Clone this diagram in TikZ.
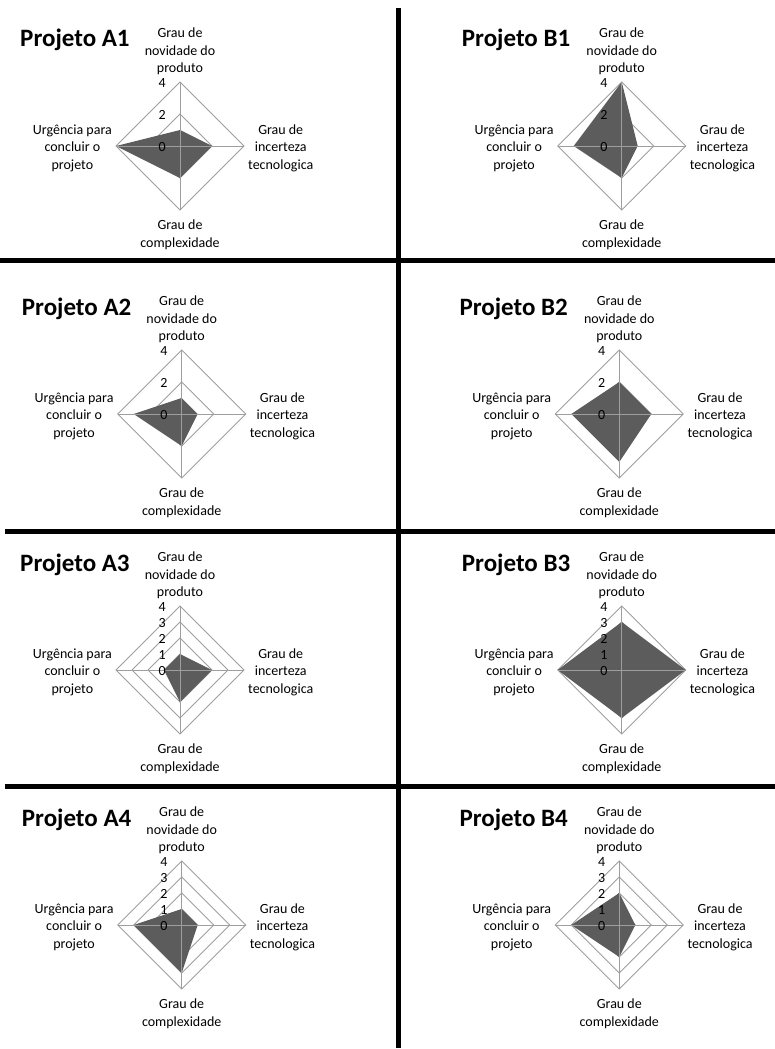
\documentclass[tikz,border=0pt]{standalone}
\usepackage{fontspec}
\setmainfont{Carlito}

\begin{document}
\begin{tikzpicture}[
  x=1pt, y=-1pt,
  ring/.style={draw=black!38, line width=0.9pt},
  spoke/.style={draw=black!38, line width=0.9pt},
  area/.style={fill=black!64},
  sep/.style={draw=black, line width=5pt},
  axlabel/.style={font=\fontsize{14}{17.5}\selectfont, align=center, inner sep=0pt},
  ticklabel/.style={font=\fontsize{14}{17}\selectfont, inner sep=0pt, anchor=east},
  chartttl/.style={font=\fontsize{25}{30}\selectfont\bfseries, inner sep=0pt, anchor=base west},
]
\useasboundingbox (0,0) rectangle (775,1049);

% ---------------- separators ----------------
\draw[sep] (398.5,8) -- (398.5,1048);
\draw[sep] (0,260)   -- (775,260);
\draw[sep] (5,531)   -- (775,531);
\draw[sep] (5,786.5) -- (775,786.5);

% ---------------- radar charts ----------------
% name / centre x / centre y / novidade / incerteza / complexidade / urgencia / step
\foreach \nm/\cx/\cy/\vn/\vi/\vc/\vu/\st in {
    A1/180/146/1/2/2/4/2,     B1/621.7/146/4/1/2/3/2,
    A2/181.7/414/1/1/2/3/2,   B2/619.3/414/2/2/3/3/2,
    A3/180/670/1/2/2/1/1,     B3/621.7/670/3/4/3/4/1,
    A4/181.7/925/1/1/3/3/1,   B4/619.3/925/2/1/2/3/1}
{
  \begin{scope}[shift={(\cx,\cy)}]
    \pgfmathsetmacro\nxt{2*\st}
    % grid rings
    \foreach \r in {\st,\nxt,...,4}
      \draw[ring] (0,-16*\r) -- (16*\r,0) -- (0,16*\r) -- (-16*\r,0) -- cycle;
    % data area
    \fill[area] (0,-16*\vn) -- (16*\vi,0) -- (0,16*\vc) -- (-16*\vu,0) -- cycle;
    % axes on top
    \draw[spoke] (0,-64) -- (0,64) (-64,0) -- (64,0);
    % scale
    \foreach \v in {0,\st,...,4}
      \node[ticklabel] (tk\nm-\v) at (-14,-16*\v+1) {\v};
    % labels
    \node[chartttl] (ttl\nm) at (-160,-99) {Projeto \nm};
    \node[axlabel, anchor=south] (nov\nm) at (0,-71) {Grau de\\novidade do\\produto};
    \node[axlabel, anchor=west]  (inc\nm) at (68,2)  {Grau de\\incerteza\\tecnologica};
    \node[axlabel, anchor=north] (cpx\nm) at (0,74)  {Grau de\\complexidade};
    \node[axlabel, anchor=east]  (urg\nm) at (-68,2) {Urgência para\\concluir o\\projeto};
  \end{scope}
}

\end{tikzpicture}
\end{document}
